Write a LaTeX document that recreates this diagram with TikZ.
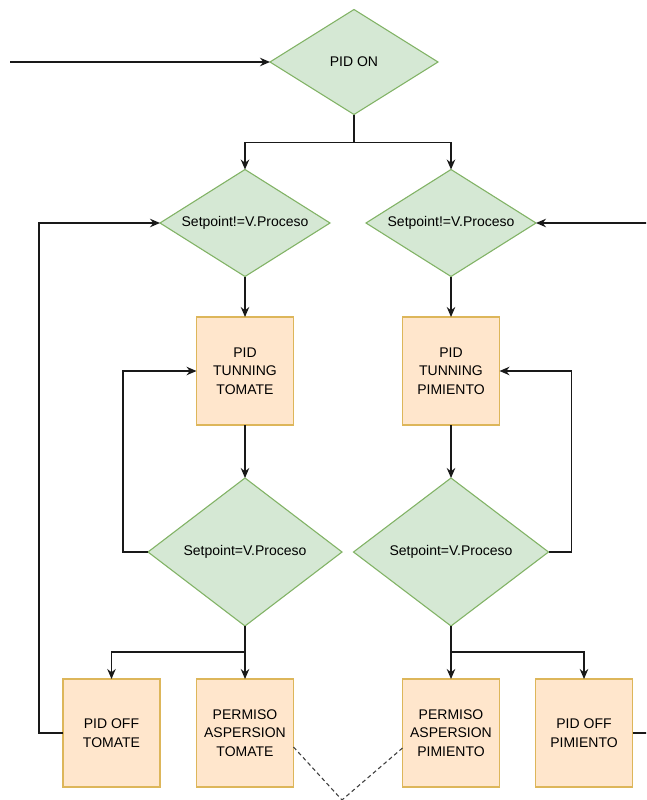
\documentclass[tikz,border=0pt]{standalone}
\usepackage{fontspec}
\setmainfont{Liberation Sans}
\usetikzlibrary{shapes.geometric,arrows.meta,calc}
\definecolor{gfill}{HTML}{D5E8D4}
\definecolor{gdraw}{HTML}{82B366}
\definecolor{ofill}{HTML}{FFE6CC}
\definecolor{odraw}{HTML}{DDB65A}
\begin{document}
\begin{tikzpicture}[x=1pt,y=-1pt,
  dia/.style={diamond, draw=gdraw, fill=gfill, line width=1.1pt, inner sep=0pt, outer sep=0pt,
    font=\fontsize{14}{18.5}\selectfont},
  box/.style={rectangle, draw=odraw, fill=ofill, line width=1.4pt, minimum width=97pt,
    minimum height=108pt, align=center, inner sep=0pt, outer sep=0pt,
    font=\fontsize{14}{18.5}\selectfont},
  conn/.style={draw=black!90, line width=1.2pt, -{Stealth[length=10pt,width=8.5pt]}},
  dconn/.style={draw=black!75, line width=1.1pt, dash pattern=on 4pt off 3pt}]
\path[use as bounding box] (0,0) rectangle (646,800);
\begin{scope}
\clip (0,0) rectangle (646,800);
\node[dia, aspect=1.6, minimum width=168pt, minimum height=105pt] (pidon) at (354,62) {PID ON};
\node[dia, aspect=1.59, minimum width=170pt, minimum height=107pt] (sl) at (245,223) {Setpoint!=V.Proceso};
\node[dia, aspect=1.59, minimum width=170pt, minimum height=107pt] (sr) at (451,223) {Setpoint!=V.Proceso};
\node[box] (tt) at (245,371) {PID\\TUNNING\\TOMATE};
\node[box] (tp) at (451,371) {PID\\TUNNING\\PIMIENTO};
\node[dia, aspect=1.31, minimum width=194pt, minimum height=148pt] (el) at (245,552) {Setpoint=V.Proceso};
\node[dia, aspect=1.31, minimum width=195pt, minimum height=148pt] (er) at (451,552) {Setpoint=V.Proceso};
\node[box] (pot) at (111.5,733) {PID OFF\\TOMATE};
\node[box] (pat) at (245,733) {PERMISO\\ASPERSION\\TOMATE};
\node[box] (pap) at (451,733) {PERMISO\\ASPERSION\\PIMIENTO};
\node[box] (pop) at (584,733) {PID OFF\\PIMIENTO};
\coordinate (in) at (10,62);
\coordinate (v) at (342,800);
\draw[conn] (in) -- (pidon.west);
\draw[conn] (pidon.south) -- ++(0,28) -| (sl.north);
\draw[conn] (pidon.south) -- ++(0,28) -| (sr.north);
\draw[conn] (sl.south) -- (tt.north);
\draw[conn] (sr.south) -- (tp.north);
\draw[conn] (tt.south) -- (el.north);
\draw[conn] (tp.south) -- (er.north);
\draw[conn] (el.west) -- ++(-25,0) |- (tt.west);
\draw[conn] (er.east) -- ++(23,0) |- (tp.east);
\draw[conn] (el.south) -- ++(0,26) -| (pot.north);
\draw[conn] (el.south) -- (pat.north);
\draw[conn] (er.south) -- ++(0,26) -| (pop.north);
\draw[conn] (er.south) -- (pap.north);
\draw[conn] (pot.west) -- ++(-24,0) |- (sl.west);
\draw[conn] (pop.east) -- ++(30,0) |- (sr.east);
\draw[dconn] ([yshift=-14pt]pat.east) -- (v);
\draw[dconn] ([yshift=-15pt]pap.west) -- (v);
\end{scope}
\end{tikzpicture}
\end{document}
